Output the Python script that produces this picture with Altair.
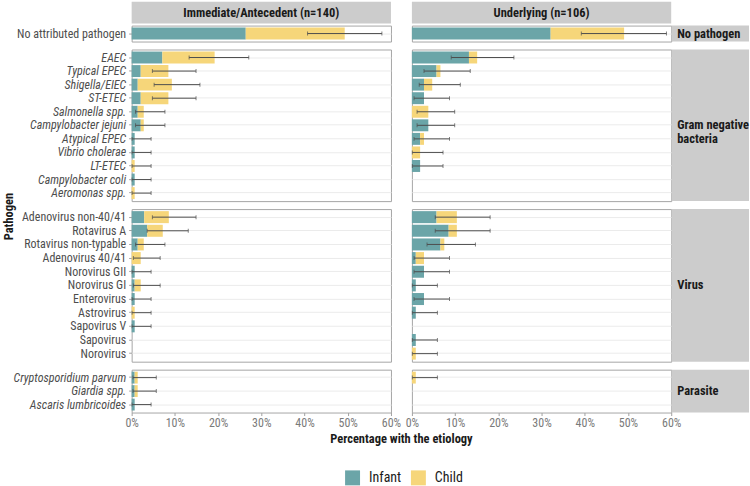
import altair as alt
import pandas as pd

FONT = "Roboto Condensed, Liberation Sans Narrow, DejaVu Sans Condensed, Roboto"
TEAL = "#6BA5A8"
YELLOW = "#F6D67A"
STRIP = "#CCCCCC"
ERR = "#4D4D4D"

cause_titles = ["Immediate/Antecedent (n=140)", "Underlying (n=106)"]
group_names = ["No pathogen", "Gram negative bacteria", "Virus", "Parasite"]
group_strip = ["No pathogen", "Gram negative\nbacteria", "Virus", "Parasite"]

no_pathogen = ["No attributed pathogen"]
bacteria = ["EAEC", "Typical EPEC", "Shigella/EIEC", "ST-ETEC", "Salmonella spp.",
            "Campylobacter jejuni", "Atypical EPEC", "Vibrio cholerae", "LT-ETEC",
            "Campylobacter coli", "Aeromonas spp."]
viruses = ["Adenovirus non-40/41", "Rotavirus A", "Rotavirus non-typable", "Adenovirus 40/41",
           "Norovirus GII", "Norovirus GI", "Enterovirus", "Astrovirus", "Sapovirus V",
           "Sapovirus", "Norovirus"]
parasites = ["Cryptosporidium parvum", "Giardia spp.", "Ascaris lumbricoides"]
group_pathogens = [no_pathogen, bacteria, viruses, parasites]
italic_names = bacteria + parasites

# Percentage with each etiology, in pathogen order
# (no pathogen, bacteria, viruses, parasites); None = no interval drawn
imm_infant = [26.4,
              7.1, 2.1, 1.4, 2.1, 1.4, 2.1, 0.7, 0.7, 0.0, 0.7, 0.0,
              2.9, 3.6, 1.4, 0.0, 0.7, 0.7, 0.7, 0.0, 0.7, 0.0, 0.0,
              0.7, 0.7, 0.7]
imm_child = [22.9,
             12.1, 6.4, 7.9, 6.4, 1.4, 0.7, 0.0, 0.0, 0.7, 0.0, 0.7,
             5.7, 3.6, 1.4, 2.1, 0.0, 1.4, 0.0, 0.7, 0.0, 0.0, 0.0,
             0.7, 0.7, 0.0]
imm_lo = [40.7,
          13.3, 4.8, 5.2, 4.8, 0.9, 0.9, 0.1, 0.1, 0.1, 0.1, 0.1,
          4.8, 3.6, 0.9, 0.4, 0.1, 0.4, 0.1, 0.1, 0.1, None, None,
          0.3, 0.3, 0.1]
imm_hi = [57.9,
          27.1, 14.9, 15.8, 14.9, 7.7, 7.7, 4.5, 4.5, 4.5, 4.5, 4.5,
          14.9, 13.1, 7.7, 6.6, 4.5, 6.6, 4.5, 4.5, 4.5, None, None,
          5.7, 5.7, 4.5]

und_infant = [32.1,
              13.2, 5.7, 2.8, 2.8, 0.0, 3.8, 1.9, 0.0, 1.9, 0.0, 0.0,
              5.7, 8.5, 6.6, 0.9, 2.8, 0.9, 2.8, 0.9, 0.0, 0.9, 0.0,
              0.0, 0.0, 0.0]
und_child = [17.0,
             1.9, 0.9, 1.9, 0.0, 3.8, 0.0, 0.9, 1.9, 0.0, 0.0, 0.0,
             4.7, 1.9, 0.9, 1.9, 0.0, 0.0, 0.0, 0.0, 0.0, 0.0, 0.9,
             0.9, 0.0, 0.0]
und_lo = [39.2,
          9.1, 2.8, 1.7, 0.5, 1.2, 1.2, 0.5, 0.1, 0.1, None, None,
          5.4, 5.4, 3.5, 0.5, 0.5, 0.1, 0.5, 0.1, None, 0.1, 0.1,
          0.1, None, None]
und_hi = [58.9,
          23.6, 13.5, 11.2, 8.7, 9.9, 9.9, 8.7, 7.2, 7.2, None, None,
          18.1, 18.1, 14.7, 8.7, 8.7, 5.9, 8.7, 5.9, None, 5.9, 5.9,
          5.9, None, None]

series = [(imm_infant, imm_child, imm_lo, imm_hi), (und_infant, und_child, und_lo, und_hi)]

bar_rows, err_rows = [], []
for ci, (inf, chi, lo, hi) in enumerate(series):
    k = 0
    for gi, names in enumerate(group_pathogens):
        for name in names:
            bar_rows.append({"cause": ci, "group": gi, "pathogen": name,
                             "age": "Infant", "age_ord": 0, "pct": inf[k]})
            bar_rows.append({"cause": ci, "group": gi, "pathogen": name,
                             "age": "Child", "age_ord": 1, "pct": chi[k]})
            if lo[k] is not None:
                err_rows.append({"cause": ci, "group": gi, "pathogen": name,
                                 "lo": lo[k], "hi": hi[k]})
            k += 1
bars_df = pd.DataFrame(bar_rows)
err_df = pd.DataFrame(err_rows)
strip_df = pd.DataFrame({"group": list(range(4)), "label": group_strip})
head_df = pd.DataFrame({"cause": [0, 1], "label": cause_titles})

W = 260
STRIP_W = 78
heights = [16, 152, 153, 43]

italic_test = "indexof(" + str(italic_names) + ", datum.value) >= 0"


def panel(ci, gi):
    names = group_pathogens[gi]
    h = heights[gi]
    sel = f"datum.cause === {ci} && datum.group === {gi}"
    yscale = alt.Scale(domain=names, paddingInner=0.12, paddingOuter=0.15)
    if ci == 0:
        yaxis = alt.Axis(title=None, grid=True, bandPosition=0.5, gridColor="#EBEBEB",
                         domain=False, ticks=True, tickSize=3, tickColor="#A0A0A0",
                         labelFont=FONT, labelFontSize=12, labelColor="#4D4D4D",
                         labelPadding=3, labelLimit=200,
                         labelFontStyle={"condition": {"test": italic_test, "value": "italic"},
                                         "value": "normal"})
    else:
        yaxis = alt.Axis(title=None, grid=True, bandPosition=0.5, gridColor="#EBEBEB",
                         domain=False, ticks=False, labels=False)
    if gi == 3:
        xaxis = alt.Axis(title=None, values=[0, 10, 20, 30, 40, 50, 60],
                         labelExpr="datum.value + '%'", grid=False, domain=False,
                         ticks=True, tickSize=3, tickColor="#A0A0A0",
                         labelFont=FONT, labelFontSize=12, labelColor="#7A7A7A",
                         labelPadding=2, labelFlush=False)
    else:
        xaxis = None
    xscale = alt.Scale(domain=[0, 60], nice=False)
    y = alt.Y("pathogen:N", scale=yscale, axis=yaxis, sort=names)

    bars = alt.Chart(bars_df).transform_filter(sel).mark_bar().encode(
        x=alt.X("pct:Q", stack="zero", scale=xscale, axis=xaxis),
        y=y,
        color=alt.Color("age:N",
                        scale=alt.Scale(domain=["Infant", "Child"], range=[TEAL, YELLOW]),
                        legend=alt.Legend(title=None, orient="none", legendX=214, legendY=446,
                                          direction="horizontal", symbolType="square",
                                          symbolSize=225, symbolStrokeWidth=0,
                                          labelFont=FONT, labelFontSize=14,
                                          labelColor="#1A1A1A", labelOffset=9,
                                          columnPadding=9, padding=0)),
        order=alt.Order("age_ord:Q"),
    )
    err = alt.Chart(err_df).transform_filter(sel)
    rule = err.mark_rule(color=ERR, strokeWidth=1).encode(
        x=alt.X("lo:Q", scale=xscale), x2="hi:Q", y=y)
    cap_lo = err.mark_tick(color=ERR, thickness=1, size=4, orient="vertical").encode(
        x=alt.X("lo:Q", scale=xscale), y=y)
    cap_hi = err.mark_tick(color=ERR, thickness=1, size=4, orient="vertical").encode(
        x=alt.X("hi:Q", scale=xscale), y=y)
    layers = [bars, rule, cap_lo, cap_hi]

    if ci == 1:
        sbase = alt.Chart(strip_df).transform_filter(f"datum.group === {gi}")
        layers.append(sbase.mark_rect(color=STRIP).encode(
            x=alt.value(W + 0.5), x2=alt.value(W + STRIP_W), y=alt.value(0), y2=alt.value(h)))
        layers.append(sbase.mark_text(align="left", baseline="middle", lineBreak="\n",
                                      font=FONT, fontSize=12.5, fontWeight="bold",
                                      color="#1A1A1A", lineHeight=14).encode(
            x=alt.value(W + 6), y=alt.value(h / 2), text="label:N"))
    if gi == 0:
        hbase = alt.Chart(head_df).transform_filter(f"datum.cause === {ci}")
        layers.append(hbase.mark_rect(color=STRIP).encode(
            x=alt.value(0), x2=alt.value(W), y=alt.value(-24), y2=alt.value(-2)))
        layers.append(hbase.mark_text(align="center", baseline="middle", font=FONT,
                                      fontSize=12.5, fontWeight="bold", color="#1A1A1A").encode(
            x=alt.value(W / 2), y=alt.value(-13), text="label:N"))
    if ci == 0 and gi == 2:
        layers.append(alt.Chart(head_df).transform_filter("datum.cause === 0").mark_text(
            angle=270, align="center", baseline="top", font=FONT, fontSize=12.5,
            fontWeight="bold", color="#1A1A1A").encode(
            x=alt.value(-129), y=alt.value(7.5), text=alt.value("Pathogen")))
    if ci == 0 and gi == 3:
        layers.append(alt.Chart(head_df).transform_filter("datum.cause === 0").mark_text(
            align="center", baseline="middle", font=FONT, fontSize=12.5,
            fontWeight="bold", color="#1A1A1A").encode(
            x=alt.value(W + 10.5), y=alt.value(70),
            text=alt.value("Percentage with the etiology")))

    return alt.layer(*layers).properties(width=W, height=h)


cells = []
for gi in range(4):
    for ci in range(2):
        cells.append(panel(ci, gi))

chart = alt.concat(
    *cells, columns=2, spacing={"row": 8, "column": 21}, bounds="flush", align="each"
).properties(
    padding={"left": 2, "top": 0, "right": 0, "bottom": 0}
).configure(
    font=FONT
).configure_view(
    stroke="#A6A6A6", strokeWidth=1
)

chart.save("out.html", embed_options={"renderer": "svg", "actions": False})
